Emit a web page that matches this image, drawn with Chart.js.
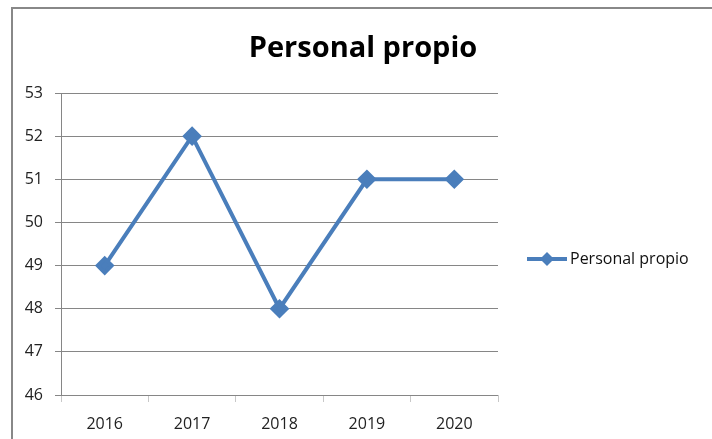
<!DOCTYPE html>
<html>
<head>
<meta charset="utf-8">
<script src="https://cdn.jsdelivr.net/npm/chart.js@4"></script>
<style>
  html, body { margin: 0; padding: 0; background: #fff; }
</style>
</head>
<body>
<canvas id="chart" width="712" height="439"></canvas>
<script>
// data
const years = ['2016', '2017', '2018', '2019', '2020'];
const personalPropio = [49, 52, 48, 51, 51];
const seriesName = 'Personal propio';
const chartTitle = 'Personal propio';

const blue = '#4a7ebb';
const gray = '#868686';
const font = '"Open Sans", "Liberation Sans", sans-serif';

// frame, title and legend drawn by hand to match the spreadsheet look
const decor = {
    id: 'decor',
    beforeDraw(chart) {
        const c = chart.ctx;
        c.save();
        c.fillStyle = '#fff';
        c.fillRect(0, 0, chart.width, chart.height);
        c.strokeStyle = '#888';
        c.lineWidth = 2;
        c.strokeRect(12, 8, 800, 500);
        c.restore();
    },
    afterDraw(chart) {
        const c = chart.ctx;
        c.save();
        c.fillStyle = '#000';
        c.font = 'bold 29px ' + font;
        c.textAlign = 'center';
        c.textBaseline = 'middle';
        c.fillText(chartTitle, 363, 49);

        // legend
        c.strokeStyle = blue;
        c.lineWidth = 4;
        c.beginPath();
        c.moveTo(527, 259);
        c.lineTo(567, 259);
        c.stroke();
        c.fillStyle = blue;
        c.beginPath();
        c.moveTo(547, 252);
        c.lineTo(554, 259);
        c.lineTo(547, 266);
        c.lineTo(540, 259);
        c.closePath();
        c.fill();
        c.fillStyle = '#111';
        c.font = '16px ' + font;
        c.textAlign = 'left';
        c.fillText(seriesName, 570, 259);
        c.restore();
    }
};

new Chart(document.getElementById('chart'), {
    type: 'line',
    data: {
        labels: years,
        datasets: [{
            label: seriesName,
            data: personalPropio,
            borderColor: blue,
            backgroundColor: blue,
            borderWidth: 4,
            pointStyle: 'rectRot',
            pointRadius: 7,
            pointHoverRadius: 7,
            tension: 0
        }]
    },
    options: {
        responsive: false,
        animation: false,
        layout: { padding: { top: 93, right: 214, left: 0, bottom: 0 } },
        plugins: {
            legend: { display: false },
            title: { display: false },
            tooltip: { enabled: false }
        },
        scales: {
            x: {
                offset: true,
                afterFit(scale) { scale.height = 44; },
                border: { display: false },
                grid: {
                    offset: true,
                    drawOnChartArea: false,
                    tickLength: 7,
                    color: '#c8c8c8'
                },
                ticks: {
                    padding: 13,
                    color: '#222',
                    font: { family: font, size: 16 }
                }
            },
            y: {
                min: 46,
                max: 53,
                afterFit(scale) { scale.width = 61; },
                border: { color: gray },
                grid: { color: gray, tickLength: 6 },
                ticks: {
                    stepSize: 1,
                    padding: 12,
                    color: '#222',
                    font: { family: font, size: 16 }
                }
            }
        }
    },
    plugins: [decor]
});
</script>
</body>
</html>
